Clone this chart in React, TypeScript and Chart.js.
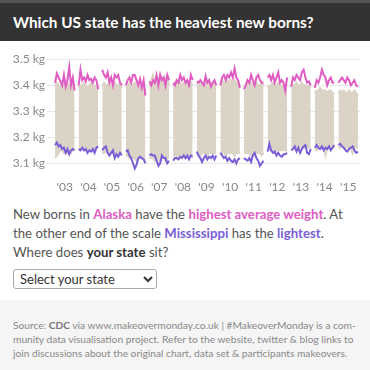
import React, { useEffect, useRef } from "react";
import { Chart, registerables } from "chart.js";

Chart.register(...registerables);

const years = [2003, 2004, 2005, 2006, 2007, 2008, 2009, 2010, 2011, 2012, 2013, 2014, 2015];
const yTicks = [3.1, 3.2, 3.3, 3.4, 3.5];

// monthly average birth weight (kg), 12 per year
const alaska = [
  3.41, 3.445, 3.43, 3.415, 3.40, 3.44, 3.395, 3.42, 3.47, 3.40, 3.43, 3.38,
  3.40, 3.46, 3.42, 3.43, 3.415, 3.44, 3.42, 3.425, 3.41, 3.43, 3.42, 3.385,
  3.46, 3.44, 3.43, 3.45, 3.41, 3.43, 3.40, 3.44, 3.43, 3.44, 3.41, 3.40,
  3.40, 3.42, 3.43, 3.41, 3.44, 3.44, 3.42, 3.40, 3.425, 3.39, 3.42, 3.36,
  3.415, 3.40, 3.42, 3.41, 3.44, 3.40, 3.44, 3.42, 3.43, 3.40, 3.44, 3.42,
  3.41, 3.40, 3.42, 3.41, 3.44, 3.42, 3.43, 3.41, 3.42, 3.40, 3.44, 3.42,
  3.415, 3.41, 3.42, 3.41, 3.40, 3.435, 3.41, 3.42, 3.395, 3.41, 3.42, 3.40,
  3.40, 3.43, 3.44, 3.42, 3.44, 3.43, 3.45, 3.43, 3.465, 3.43, 3.42, 3.39,
  3.385, 3.40, 3.42, 3.41, 3.44, 3.42, 3.40, 3.43, 3.44, 3.42, 3.41, 3.41,
  3.43, 3.44, 3.42, 3.44, 3.41, 3.43, 3.45, 3.41, 3.42, 3.41, 3.38, 3.43,
  3.395, 3.43, 3.42, 3.44, 3.43, 3.42, 3.45, 3.46, 3.43, 3.41, 3.415, 3.40,
  3.39, 3.42, 3.41, 3.43, 3.46, 3.44, 3.43, 3.40, 3.42, 3.43, 3.41, 3.41,
  3.41, 3.42, 3.43, 3.42, 3.41, 3.43, 3.42, 3.40, 3.41, 3.42, 3.40, 3.395,
];

const mississippi = [
  3.17, 3.18, 3.165, 3.17, 3.155, 3.16, 3.14, 3.155, 3.135, 3.15, 3.155, 3.15,
  3.155, 3.15, 3.16, 3.15, 3.155, 3.14, 3.15, 3.145, 3.155, 3.14, 3.16, 3.165,
  3.15, 3.16, 3.165, 3.14, 3.13, 3.14, 3.15, 3.12, 3.135, 3.125, 3.14, 3.13,
  3.145, 3.15, 3.13, 3.12, 3.10, 3.08, 3.095, 3.12, 3.125, 3.12, 3.115, 3.10,
  3.13, 3.135, 3.13, 3.13, 3.11, 3.09, 3.10, 3.13, 3.12, 3.12, 3.10, 3.11,
  3.11, 3.12, 3.12, 3.115, 3.125, 3.12, 3.13, 3.12, 3.13, 3.115, 3.13, 3.125,
  3.145, 3.13, 3.12, 3.105, 3.12, 3.13, 3.115, 3.125, 3.12, 3.13, 3.115, 3.13,
  3.14, 3.13, 3.12, 3.125, 3.11, 3.12, 3.11, 3.105, 3.115, 3.10, 3.115, 3.12,
  3.12, 3.115, 3.11, 3.12, 3.105, 3.13, 3.14, 3.12, 3.11, 3.09, 3.10, 3.11,
  3.145, 3.175, 3.15, 3.14, 3.145, 3.13, 3.14, 3.13, 3.125, 3.135, 3.135, 3.14,
  3.15, 3.155, 3.165, 3.145, 3.16, 3.14, 3.155, 3.165, 3.17, 3.14, 3.135, 3.155,
  3.16, 3.17, 3.16, 3.155, 3.165, 3.15, 3.16, 3.155, 3.165, 3.15, 3.16, 3.17,
  3.17, 3.175, 3.165, 3.16, 3.15, 3.145, 3.155, 3.16, 3.165, 3.15, 3.14, 3.145,
];

// upper and lower edge of the cloud of all other states
const otherStatesMax = [
  3.40, 3.41, 3.40, 3.39, 3.41, 3.40, 3.40, 3.41, 3.40, 3.39, 3.40, 3.39,
  3.39, 3.40, 3.40, 3.41, 3.40, 3.39, 3.40, 3.41, 3.40, 3.40, 3.39, 3.38,
  3.40, 3.41, 3.40, 3.40, 3.41, 3.40, 3.39, 3.41, 3.40, 3.40, 3.41, 3.39,
  3.39, 3.40, 3.41, 3.40, 3.40, 3.41, 3.40, 3.40, 3.39, 3.40, 3.39, 3.38,
  3.40, 3.42, 3.44, 3.41, 3.43, 3.41, 3.44, 3.42, 3.43, 3.41, 3.43, 3.40,
  3.40, 3.41, 3.40, 3.42, 3.41, 3.40, 3.41, 3.40, 3.41, 3.40, 3.41, 3.40,
  3.40, 3.41, 3.41, 3.40, 3.41, 3.42, 3.40, 3.41, 3.40, 3.41, 3.41, 3.40,
  3.41, 3.42, 3.41, 3.41, 3.42, 3.41, 3.42, 3.41, 3.42, 3.41, 3.41, 3.40,
  3.39, 3.40, 3.41, 3.40, 3.41, 3.40, 3.40, 3.41, 3.40, 3.40, 3.41, 3.40,
  3.39, 3.40, 3.40, 3.41, 3.40, 3.40, 3.41, 3.40, 3.40, 3.39, 3.39, 3.40,
  3.39, 3.40, 3.40, 3.41, 3.40, 3.40, 3.41, 3.40, 3.40, 3.39, 3.40, 3.39,
  3.37, 3.38, 3.38, 3.39, 3.38, 3.38, 3.38, 3.37, 3.38, 3.38, 3.37, 3.37,
  3.37, 3.38, 3.37, 3.38, 3.37, 3.37, 3.38, 3.37, 3.37, 3.38, 3.37, 3.36,
];

const otherStatesMin = [
  3.12, 3.13, 3.14, 3.15, 3.15, 3.14, 3.15, 3.14, 3.15, 3.14, 3.15, 3.15,
  3.15, 3.15, 3.16, 3.15, 3.15, 3.15, 3.16, 3.15, 3.15, 3.15, 3.16, 3.16,
  3.14, 3.14, 3.15, 3.14, 3.13, 3.14, 3.14, 3.13, 3.14, 3.13, 3.14, 3.14,
  3.13, 3.13, 3.12, 3.12, 3.12, 3.12, 3.11, 3.12, 3.12, 3.12, 3.12, 3.11,
  3.12, 3.12, 3.12, 3.11, 3.12, 3.11, 3.12, 3.12, 3.12, 3.11, 3.12, 3.12,
  3.13, 3.13, 3.13, 3.12, 3.13, 3.13, 3.13, 3.12, 3.13, 3.13, 3.13, 3.13,
  3.14, 3.14, 3.13, 3.14, 3.14, 3.14, 3.13, 3.14, 3.14, 3.14, 3.14, 3.14,
  3.14, 3.14, 3.14, 3.13, 3.14, 3.14, 3.14, 3.14, 3.13, 3.14, 3.14, 3.14,
  3.14, 3.14, 3.14, 3.14, 3.13, 3.14, 3.14, 3.14, 3.14, 3.14, 3.13, 3.14,
  3.15, 3.15, 3.15, 3.15, 3.14, 3.15, 3.15, 3.15, 3.15, 3.15, 3.15, 3.15,
  3.16, 3.16, 3.16, 3.15, 3.16, 3.16, 3.16, 3.16, 3.16, 3.16, 3.16, 3.16,
  3.16, 3.15, 3.16, 3.16, 3.16, 3.16, 3.13, 3.16, 3.16, 3.16, 3.16, 3.16,
  3.16, 3.16, 3.17, 3.16, 3.16, 3.16, 3.16, 3.16, 3.14, 3.16, 3.16, 3.16,
];

const PINK = "#e05cc2";
const PURPLE = "#7a5ed8";
const BEIGE = "#dbd3c5";
const FONT = "Lato, 'DejaVu Sans', sans-serif";

// month position inside its year block
const monthX = (yi: number, m: number) => years[yi] + (m - 5.5) * 0.075;

function seriesPoints(values: number[]) {
  const pts: { x: number; y: number | null }[] = [];
  years.forEach((yr, yi) => {
    for (let m = 0; m < 12; m++) pts.push({ x: monthX(yi, m), y: values[yi * 12 + m] });
    pts.push({ x: yr + 0.5, y: null });
  });
  return pts;
}

function yearPoints(values: number[], yi: number) {
  const pts: { x: number; y: number }[] = [];
  for (let m = 0; m < 12; m++) pts.push({ x: monthX(yi, m), y: values[yi * 12 + m] });
  return pts;
}

function BirthChart() {
  const ref = useRef<HTMLCanvasElement | null>(null);
  useEffect(() => {
    if (!ref.current) return;
    const datasets: any[] = [
      {
        data: seriesPoints(alaska),
        borderColor: PINK,
        borderWidth: 2,
        pointRadius: 0,
        tension: 0,
        spanGaps: false,
        fill: false,
      },
      {
        data: seriesPoints(mississippi),
        borderColor: PURPLE,
        borderWidth: 2,
        pointRadius: 0,
        tension: 0,
        spanGaps: false,
        fill: false,
      },
    ];
    years.forEach((_, yi) => {
      datasets.push({
        data: yearPoints(otherStatesMax, yi),
        borderColor: BEIGE,
        backgroundColor: BEIGE,
        borderWidth: 2,
        pointRadius: 0,
        fill: "+1",
      });
      datasets.push({
        data: yearPoints(otherStatesMin, yi),
        borderColor: BEIGE,
        borderWidth: 2,
        pointRadius: 0,
        fill: false,
      });
    });
    const chart = new Chart(ref.current, {
      type: "line",
      data: { datasets },
      options: {
        animation: false,
        responsive: false,
        maintainAspectRatio: false,
        layout: { padding: { top: 14.3, right: 10, bottom: 0, left: 0 } },
        plugins: { legend: { display: false }, tooltip: { enabled: false } },
        scales: {
          x: {
            type: "linear",
            min: 2002.5,
            max: 2015.5,
            afterBuildTicks: (s: any) => {
              s.ticks = years.map((v) => ({ value: v }));
            },
            afterFit: (s: any) => {
              s.height = 20.7;
            },
            grid: { display: false, drawTicks: false },
            border: { display: false },
            ticks: {
              padding: 4,
              color: "#888",
              font: { family: FONT, size: 12 },
              maxRotation: 0,
              autoSkip: false,
              callback: (v: any) => "'" + String(v).slice(2),
            },
          },
          y: {
            min: 3.05,
            max: 3.5,
            afterBuildTicks: (s: any) => {
              s.ticks = yTicks.map((v) => ({ value: v }));
            },
            afterFit: (s: any) => {
              s.width = 53;
            },
            grid: { color: "#e6e6e6", tickLength: 6, lineWidth: 1 },
            border: { display: false },
            ticks: {
              padding: 2,
              color: "#888",
              font: { family: FONT, size: 12 },
              callback: (v: any) => Number(v).toFixed(1) + " kg",
            },
          },
        },
      } as any,
    });
    return () => chart.destroy();
  }, []);
  return <canvas ref={ref} width={370} height={152} style={{ display: "block", width: 370, height: 152 }} />;
}

export default function App() {
  const pink = { color: PINK, fontWeight: 700 };
  const purple = { color: PURPLE, fontWeight: 700 };
  return (
    <div style={{ width: 370, height: 370, position: "relative", overflow: "hidden", background: "#fff", fontFamily: FONT }}>
      <style>{"body{margin:0}"}</style>
      <div
        style={{
          height: 38,
          borderTop: "3px solid #555",
          background: "#333",
          color: "#fff",
          fontWeight: 700,
          fontSize: 15.3,
          display: "flex",
          alignItems: "center",
          paddingLeft: 13,
        }}
      >
        Which US state has the heaviest new borns?
      </div>
      <div style={{ marginTop: 4 }}>
        <BirthChart />
      </div>
      <div
        style={{
          position: "absolute",
          left: 13,
          top: 205,
          width: 350,
          fontSize: 13.2,
          lineHeight: "19px",
          color: "#555",
          whiteSpace: "nowrap",
        }}
      >
        New borns in <span style={pink}>Alaska</span> have the <span style={pink}>highest average weight</span>. At
        <br />
        the other end of the scale <span style={purple}>Mississippi</span> has the <span style={purple}>lightest</span>.
        <br />
        Where does <b style={{ color: "#333" }}>your state</b> sit?
      </div>
      <select
        style={{
          position: "absolute",
          left: 13,
          top: 269,
          width: 144,
          height: 20,
          fontFamily: FONT,
          fontSize: 13,
          color: "#333",
          border: "1px solid #aaa",
          borderRadius: 3,
          background: "#fff",
          padding: "0 2px",
        }}
        defaultValue="none"
      >
        <option value="none">Select your state</option>
      </select>
      <div
        style={{
          position: "absolute",
          left: 0,
          top: 300,
          width: 370,
          height: 70,
          background: "#f5f5f5",
          boxSizing: "border-box",
          padding: "18px 13px 0 13px",
          fontSize: 10.2,
          lineHeight: "14px",
          color: "#888",
          whiteSpace: "nowrap",
        }}
      >
        Source: <b style={{ color: "#777" }}>CDC</b> via www.makeovermonday.co.uk | #MakeoverMonday is a com-
        <br />
        munity data visualisation project. Refer to the website, twitter &amp; blog links to
        <br />
        join discussions about the original chart, data set &amp; participants makeovers.
      </div>
    </div>
  );
}
